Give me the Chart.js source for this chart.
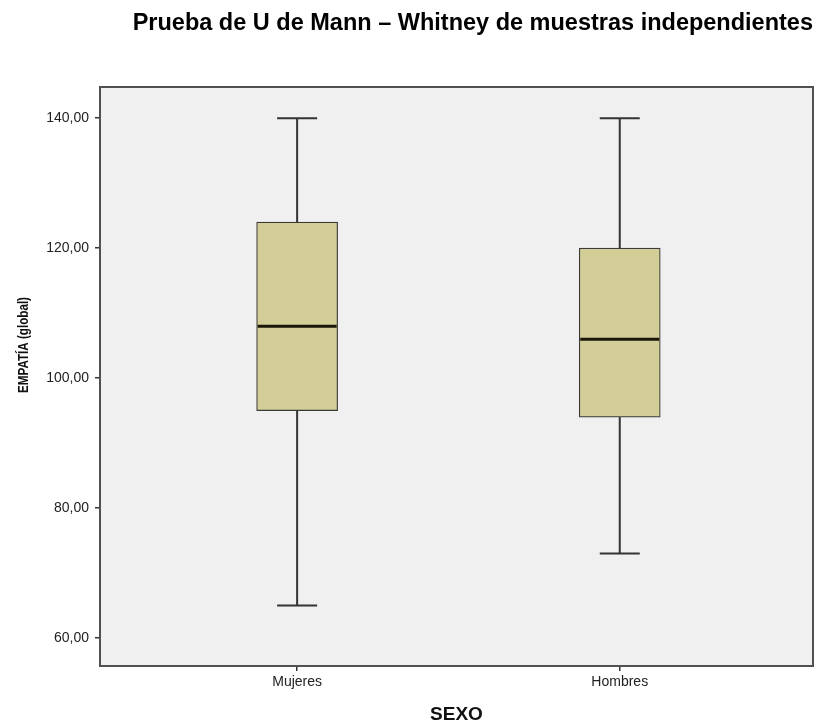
<!DOCTYPE html>
<html>
<head>
<meta charset="utf-8">
<title>Prueba de U de Mann – Whitney de muestras independientes</title>
<script src="https://cdn.jsdelivr.net/npm/chart.js@4/dist/chart.umd.min.js"></script>
<style>
  html, body { margin: 0; padding: 0; background: #ffffff; }
  #wrap { width: 817px; height: 728px; position: relative; }
</style>
</head>
<body>
<div id="wrap"><canvas id="chart" width="817" height="728"></canvas></div>
<script>
// Groups and five-number summaries of EMPATÍA (global)
const categories = ['Mujeres', 'Hombres'];
const minimum = [65, 73];
const q1 = [95, 94];
const median = [108, 106];
const q3 = [124, 120];
const maximum = [140, 140];
const yTicks = [60, 80, 100, 120, 140];

const FONT = '"Liberation Sans", Arial, sans-serif';
const BOX_PX = 81;
const CAP_PX = 40;

// Panel background and frame
const framePlugin = {
  id: 'frame',
  beforeDraw(chart) {
    const { ctx, chartArea: a } = chart;
    ctx.save();
    ctx.fillStyle = '#f0f0f0';
    ctx.fillRect(a.left, a.top, a.right - a.left, a.bottom - a.top);
    ctx.restore();
  },
  afterDraw(chart) {
    const { ctx, chartArea: a } = chart;
    ctx.save();
    ctx.strokeStyle = '#505050';
    ctx.lineWidth = 2;
    ctx.strokeRect(a.left, a.top, a.right - a.left, a.bottom - a.top);
    // rotated y-axis title
    ctx.translate(24, 345);
    ctx.rotate(-Math.PI / 2);
    ctx.font = 'bold 15px ' + FONT;
    const w = ctx.measureText('EMPATÍA (global)').width;
    ctx.scale(96 / w, 1);
    ctx.fillStyle = '#111';
    ctx.textAlign = 'center';
    ctx.textBaseline = 'middle';
    ctx.fillText('EMPATÍA (global)', 0, 0);
    ctx.restore();
  }
};

// Whiskers with caps, and median lines, placed through the chart scales
const boxplotPlugin = {
  id: 'boxplotParts',
  beforeDatasetsDraw(chart) {
    const { ctx, scales: { x, y } } = chart;
    ctx.save();
    ctx.strokeStyle = '#333333';
    ctx.lineWidth = 2;
    categories.forEach((c, i) => {
      const cx = x.getPixelForValue(i);
      const segs = [[minimum[i], q1[i]], [q3[i], maximum[i]]];
      segs.forEach(([a, b]) => {
        ctx.beginPath();
        ctx.moveTo(cx, y.getPixelForValue(a));
        ctx.lineTo(cx, y.getPixelForValue(b));
        ctx.stroke();
      });
      [minimum[i], maximum[i]].forEach(v => {
        const py = y.getPixelForValue(v);
        ctx.beginPath();
        ctx.moveTo(cx - CAP_PX / 2, py);
        ctx.lineTo(cx + CAP_PX / 2, py);
        ctx.stroke();
      });
    });
    ctx.restore();
  },
  afterDatasetsDraw(chart) {
    const { ctx, scales: { x, y } } = chart;
    ctx.save();
    ctx.strokeStyle = '#1a1608';
    ctx.lineWidth = 3;
    categories.forEach((c, i) => {
      const cx = x.getPixelForValue(i);
      const py = y.getPixelForValue(median[i]);
      ctx.beginPath();
      ctx.moveTo(cx - BOX_PX / 2 + 1, py);
      ctx.lineTo(cx + BOX_PX / 2 - 1, py);
      ctx.stroke();
    });
    ctx.restore();
  }
};

new Chart(document.getElementById('chart'), {
  type: 'bar',
  data: {
    datasets: [{
      label: 'EMPATÍA (global)',
      data: categories.map((c, i) => ({ x: i, y: [q1[i], q3[i]] })),
      backgroundColor: '#d3ce97',
      borderColor: '#3a3a3a',
      borderWidth: 1.2,
      borderSkipped: false,
      barThickness: BOX_PX,
      grouped: false
    }]
  },
  options: {
    responsive: false,
    animation: false,
    devicePixelRatio: 1,
    layout: { padding: { left: 0, right: 4, top: 0, bottom: 0 } },
    plugins: {
      legend: { display: false },
      tooltip: { enabled: false },
      title: {
        display: true,
        text: 'Prueba de U de Mann – Whitney de muestras independientes',
        align: 'end',
        color: '#000000',
        font: { family: FONT, size: 23.5, weight: 'bold', lineHeight: 1.2 },
        padding: { top: 9, bottom: 49.8 }
      }
    },
    scales: {
      x: {
        type: 'linear',
        min: -0.611,
        max: 1.599,
        offset: false,
        afterBuildTicks(scale) {
          scale.ticks = categories.map((c, i) => ({ value: i }));
        },
        afterFit(scale) { scale.height = 62; },
        ticks: {
          color: '#222',
          font: { family: FONT, size: 14 },
          padding: 3,
          maxRotation: 0,
          autoSkip: false,
          callback: (v) => categories[v]
        },
        grid: { display: true, offset: false, drawOnChartArea: false, drawTicks: true, tickLength: 5, color: '#333', lineWidth: 1.5 },
        border: { display: false },
        title: {
          display: true,
          text: 'SEXO',
          color: '#111',
          font: { family: FONT, size: 19, weight: 'bold', lineHeight: 1.2 },
          padding: { top: 0, bottom: 2 }
        }
      },
      y: {
        min: 55.7,
        max: 144.8,
        afterBuildTicks(scale) {
          scale.ticks = yTicks.map(v => ({ value: v }));
        },
        afterFit(scale) { scale.width = 100; },
        ticks: {
          color: '#222',
          font: { family: FONT, size: 14 },
          padding: 6,
          callback: (v) => v.toFixed(2).replace('.', ',')
        },
        grid: { display: true, drawOnChartArea: false, drawTicks: true, tickLength: 5, color: '#333', lineWidth: 1.5 },
        border: { display: false }
      }
    }
  },
  plugins: [framePlugin, boxplotPlugin]
});
</script>
</body>
</html>
